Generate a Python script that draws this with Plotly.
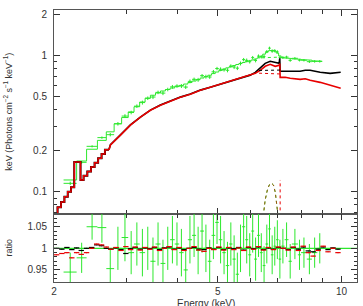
import numpy as np
import plotly.graph_objects as go
from plotly.subplots import make_subplots

# ---------------- data ----------------
# Black / red: low-energy histogram steps (bin edges, values)
step_edges = [2.00, 2.04, 2.08, 2.12, 2.16, 2.20, 2.24, 2.32, 2.36, 2.41, 2.46, 2.51, 2.56, 2.61, 2.66, 2.72]
red_step_vals = [0.070, 0.077, 0.084, 0.092, 0.100, 0.108, 0.165, 0.122, 0.131, 0.141, 0.152, 0.163, 0.176, 0.189, 0.203]
black_step_vals = [0.070, 0.077, 0.084, 0.092, 0.100, 0.108, 0.165, 0.122, 0.131, 0.141, 0.152, 0.163, 0.176, 0.189, 0.203]

# Black / red: smooth part (energy, flux)
red_E = [2.72, 2.743, 2.901, 3.067, 3.244, 3.430, 3.627, 3.836, 4.056, 4.289, 4.536, 4.796, 5.072, 5.363,
         5.671, 5.997, 6.17, 6.342, 6.521, 6.706, 6.896, 7.05, 7.075, 7.09, 7.293, 7.499, 7.930, 8.16,
         8.386, 8.868, 9.377, 9.95]
red_F = [0.203, 0.220, 0.260, 0.308, 0.352, 0.396, 0.431, 0.461, 0.493, 0.519, 0.555, 0.583, 0.614, 0.645,
         0.679, 0.714, 0.738, 0.777, 0.831, 0.859, 0.831, 0.845, 0.870, 0.690, 0.690, 0.679, 0.667, 0.673,
         0.656, 0.634, 0.603, 0.574]
black_E = [2.72, 2.743, 2.901, 3.067, 3.244, 3.430, 3.627, 3.836, 4.056, 4.289, 4.536, 4.796, 5.072, 5.363,
           5.671, 5.997, 6.17, 6.342, 6.521, 6.706, 6.896, 7.05, 7.075, 7.09, 7.293, 7.499, 7.930, 8.16,
           8.386, 8.868, 9.377, 9.95]
black_F = [0.204, 0.221, 0.261, 0.309, 0.353, 0.397, 0.432, 0.462, 0.494, 0.520, 0.556, 0.584, 0.615, 0.646,
           0.680, 0.716, 0.750, 0.803, 0.874, 0.904, 0.889, 0.874, 0.951, 0.764, 0.764, 0.764, 0.764, 0.777,
           0.777, 0.751, 0.738, 0.751]

# Green: bins (centre, half width), model, data/model ratio, ratio error
green_E = [2.19, 2.335, 2.475, 2.615, 2.74, 2.86, 2.975, 3.08, 3.18, 3.28, 3.38, 3.48, 3.58, 3.68, 3.78,
           3.88, 3.98, 4.08, 4.18, 4.28, 4.38, 4.48, 4.58, 4.68, 4.78, 4.88, 4.98, 5.08, 5.18, 5.28,
           5.38, 5.48, 5.58, 5.68, 5.78, 5.88, 5.98, 6.08, 6.18, 6.28, 6.38, 6.48, 6.58, 6.68, 6.78,
           6.88, 6.98, 7.08, 7.2, 7.35, 7.5, 7.7, 7.9, 8.1, 8.35, 8.6, 8.85]
green_hw = [0.08, 0.065, 0.075, 0.065, 0.06, 0.06, 0.055, 0.05, 0.05, 0.05, 0.05, 0.05, 0.05, 0.05, 0.05,
            0.05, 0.05, 0.05, 0.05, 0.05, 0.05, 0.05, 0.05, 0.05, 0.05, 0.05, 0.05, 0.05, 0.05, 0.05,
            0.05, 0.05, 0.05, 0.05, 0.05, 0.05, 0.05, 0.05, 0.05, 0.05, 0.05, 0.05, 0.05, 0.05, 0.05,
            0.05, 0.05, 0.05, 0.07, 0.08, 0.07, 0.13, 0.07, 0.13, 0.12, 0.13, 0.12]
green_model = [0.122, 0.168, 0.205, 0.238, 0.275, 0.315, 0.350, 0.385, 0.420, 0.455, 0.485, 0.510, 0.530, 0.548, 0.562,
               0.576, 0.590, 0.602, 0.616, 0.632, 0.648, 0.665, 0.682, 0.698, 0.715, 0.735, 0.755, 0.775, 0.792, 0.810,
               0.826, 0.842, 0.857, 0.872, 0.886, 0.900, 0.912, 0.925, 0.940, 0.958, 0.985, 1.020, 1.055, 1.080, 1.090,
               1.075, 1.040, 0.990, 0.960, 0.952, 0.948, 0.942, 0.936, 0.930, 0.922, 0.912, 0.904]
green_ratio = [0.945, 0.978, 1.050, 1.048, 0.953, 1.000, 1.025, 0.990, 1.010, 0.990, 1.000, 0.970, 1.010, 0.965, 1.000,
               1.020, 1.010, 0.990, 0.950, 1.020, 1.030, 0.995, 1.040, 1.000, 0.970, 1.030, 1.060, 1.020, 0.990, 0.960,
               1.010, 0.975, 0.940, 1.000, 1.050, 1.020, 0.985, 1.040, 0.975, 1.030, 0.990, 0.960, 1.010, 1.045, 0.985,
               1.005, 1.020, 0.975, 1.005, 1.020, 0.970, 1.010, 0.985, 0.990, 0.975, 0.990, 1.000]
green_rerr = [0.045, 0.035, 0.030, 0.035, 0.045, 0.050, 0.055, 0.050, 0.050, 0.055, 0.050, 0.055, 0.050, 0.055, 0.050,
              0.055, 0.050, 0.055, 0.050, 0.055, 0.050, 0.055, 0.050, 0.055, 0.050, 0.055, 0.050, 0.055, 0.050, 0.055,
              0.050, 0.055, 0.050, 0.055, 0.050, 0.055, 0.050, 0.050, 0.050, 0.050, 0.045, 0.045, 0.045, 0.045, 0.045,
              0.045, 0.045, 0.045, 0.040, 0.040, 0.040, 0.035, 0.035, 0.035, 0.035, 0.035, 0.035]

# Black / red ratio points
ratio_E = [2.03, 2.09, 2.15, 2.21, 2.27, 2.33, 2.40, 2.47, 2.54, 2.61, 2.68, 2.75, 2.83, 2.91, 2.99, 3.07,
           3.15, 3.24, 3.33, 3.42, 3.51, 3.61, 3.71, 3.81, 3.92, 4.03, 4.14, 4.26, 4.38, 4.50, 4.63, 4.76,
           4.89, 5.03, 5.17, 5.32, 5.47, 5.62, 5.78, 5.94, 6.11, 6.28, 6.46, 6.64, 6.83, 7.02, 7.22, 7.42,
           7.63, 7.85, 8.07, 8.30, 8.53, 8.77, 9.02, 9.27, 9.53, 9.80]
red_ratio = [0.985, 0.988, 0.990, 0.978, 0.990, 0.986, 0.990, 1.000, 1.010, 1.008, 1.003, 0.998, 1.002, 0.995, 1.004, 0.997,
             1.003, 0.996, 1.002, 0.998, 1.003, 0.995, 1.000, 1.004, 0.997, 1.002, 0.995, 1.000, 1.004, 0.996, 0.993, 1.000,
             0.997, 1.003, 0.996, 1.002, 0.997, 1.001, 0.995, 1.003, 0.998, 1.004, 0.996, 1.002, 0.997, 1.003, 1.000, 0.996,
             1.003, 0.995, 1.005, 0.990, 0.982, 0.995, 1.005, 0.992, 1.000, 0.990]
black_ratio = [1.000, 0.998, 1.002, 0.997, 1.001, 0.995, 1.000, 1.002, 1.008, 1.006, 1.000, 0.998, 1.001, 0.997, 0.988, 0.999,
               1.002, 0.998, 1.001, 0.999, 1.002, 0.997, 1.001, 1.003, 0.998, 1.001, 0.997, 1.000, 1.002, 0.998, 0.997, 1.001,
               0.998, 1.002, 0.997, 1.001, 0.999, 1.002, 0.996, 1.002, 0.999, 1.003, 0.997, 1.001, 0.998, 1.002, 1.000, 0.997,
               1.002, 0.998, 1.003, 0.994, 0.992, 0.998, 1.003, 0.997, 1.001, 0.998]

# Model components (dotted)
cont_black_E = [6.3, 7.1]; cont_black_F = [0.775, 0.780]
cont_red_E = [6.3, 7.12]; cont_red_F = [0.740, 0.730]
cont_green_E = [6.4, 7.05]; cont_green_F = [0.960, 0.970]
gauss_E = [6.45, 6.52, 6.60, 6.67, 6.75, 6.83, 6.90, 6.96, 7.01]
gauss_F = [0.066, 0.087, 0.103, 0.112, 0.116, 0.112, 0.099, 0.080, 0.066]
narrow_E = [7.09, 7.09]; narrow_F = [0.066, 0.122]

# tick labels
x_major = [2, 5, 10]
x_minor = [3, 4, 6, 7, 8, 9]
y_major = [0.1, 0.2, 0.5, 1, 2]
y_minor = [0.07, 0.08, 0.09, 0.3, 0.4, 0.6, 0.7, 0.8, 0.9]
r_major = [0.95, 1, 1.05]
r_minor = [0.93, 0.94, 0.96, 0.97, 0.98, 0.99, 1.01, 1.02, 1.03, 1.04, 1.06, 1.07]

GREEN = "#2de82d"
RED = "#e80000"
BLACK = "#000000"
FONT = "Liberation Sans, Arial"

fig = make_subplots(rows=2, cols=1, shared_xaxes=True, vertical_spacing=0, row_heights=[0.75, 0.25])

def step_xy(edges, vals):
    xs, ys = [], []
    for i, v in enumerate(vals):
        xs += [edges[i], edges[i + 1]]
        ys += [v, v]
    return xs, ys

# green model histogram + data
g_edges = [green_E[0] - green_hw[0]] + [e + h for e, h in zip(green_E, green_hw)]
gx, gy = step_xy(g_edges, green_model)
fig.add_trace(go.Scatter(x=gx, y=gy, mode="lines", line=dict(color=GREEN, width=1)), 1, 1)
green_data = np.array(green_model) * np.array(green_ratio)
green_derr = np.array(green_model) * np.array(green_rerr)
fig.add_trace(go.Scatter(x=green_E, y=green_data, mode="markers", marker=dict(size=1, color=GREEN),
                         error_x=dict(type="data", array=green_hw, color=GREEN, thickness=1, width=0),
                         error_y=dict(type="data", array=green_derr * 0.6, color=GREEN, thickness=1, width=0)), 1, 1)

# black and red histograms + smooth curves
bx, by = step_xy(step_edges, black_step_vals)
fig.add_trace(go.Scatter(x=bx, y=by, mode="lines", line=dict(color=BLACK, width=2)), 1, 1)
fig.add_trace(go.Scatter(x=black_E, y=black_F, mode="lines", line=dict(color=BLACK, width=1.6)), 1, 1)
rx, ry = step_xy(step_edges, red_step_vals)
fig.add_trace(go.Scatter(x=rx, y=ry, mode="lines", line=dict(color=RED, width=1.5)), 1, 1)
fig.add_trace(go.Scatter(x=red_E, y=red_F, mode="lines", line=dict(color=RED, width=1.6)), 1, 1)

# dotted components
for ex, fy, col in [(cont_black_E, cont_black_F, BLACK), (cont_red_E, cont_red_F, RED),
                    (cont_green_E, cont_green_F, GREEN), (gauss_E, gauss_F, GREEN),
                    (gauss_E, gauss_F, "#a05010"), (narrow_E, narrow_F, RED)]:
    fig.add_trace(go.Scatter(x=ex, y=fy, mode="lines", line=dict(color=col, width=1, dash="dot")), 1, 1)

# ratio panel
ratio_hw = [0.03 * e / 2.0 for e in ratio_E]
fig.add_trace(go.Scatter(x=[1.5, 12], y=[1, 1], mode="lines", line=dict(color=GREEN, width=1.2)), 2, 1)
fig.add_trace(go.Scatter(x=green_E, y=green_ratio, mode="markers", marker=dict(size=1, color=GREEN),
                         error_x=dict(type="data", array=green_hw, color=GREEN, thickness=1, width=0),
                         error_y=dict(type="data", array=green_rerr, color=GREEN, thickness=1, width=0)), 2, 1)
fig.add_trace(go.Scatter(x=ratio_E, y=black_ratio, mode="markers", marker=dict(size=1, color=BLACK),
                         error_x=dict(type="data", array=ratio_hw, color=BLACK, thickness=1.2, width=0),
                         error_y=dict(type="data", value=0.002, color=BLACK, thickness=1, width=0)), 2, 1)
fig.add_trace(go.Scatter(x=ratio_E, y=red_ratio, mode="markers", marker=dict(size=1, color=RED),
                         error_x=dict(type="data", array=ratio_hw, color=RED, thickness=1.2, width=0),
                         error_y=dict(type="data", value=0.006, color=RED, thickness=1.2, width=0)), 2, 1)

AX = dict(showgrid=False, zeroline=False, showline=True, linecolor="#555555", linewidth=1,
          mirror="allticks", ticks="inside", tickcolor="#333333", tickwidth=1,
          tickfont=dict(family=FONT, size=10, color="#333333"))

xr = [np.log10(2), np.log10(10.9)]
fig.update_xaxes(type="log", range=xr, tickvals=x_major, ticktext=[str(v) for v in x_major], ticklen=6,
                 minor=dict(tickvals=x_minor, ticklen=4, ticks="inside", tickcolor="#333333"), **AX)
fig.update_xaxes(showticklabels=False, row=1, col=1)
fig.update_yaxes(type="log", range=[np.log10(0.0687), np.log10(2.15)], tickvals=y_major,
                 ticktext=["0.1", "0.2", "0.5", "1", "2"], ticklen=6, ticklabelstandoff=4,
                 minor=dict(tickvals=y_minor, ticklen=3, ticks="inside", tickcolor="#333333"), row=1, col=1, **AX)
fig.update_yaxes(range=[0.922, 1.0795], tickvals=r_major, ticktext=["0.95", "1", "1.05"], ticklen=6,
                 ticklabelstandoff=4,
                 minor=dict(tickvals=r_minor, ticklen=3, ticks="inside", tickcolor="#333333"), row=2, col=1, **AX)

fig.update_layout(
    width=363, height=306, margin=dict(l=53.5, r=6, t=9.5, b=24),
    paper_bgcolor="white", plot_bgcolor="white", showlegend=False,
    annotations=[
        dict(text="keV (Photons cm<sup>−2</sup> s<sup>−1</sup> keV<sup>−1</sup>)", xref="paper", yref="paper",
             x=-0.15, y=0.624, xanchor="center", yanchor="middle", textangle=-90, showarrow=False,
             font=dict(family=FONT, size=9, color="#333333")),
        dict(text="ratio", xref="paper", yref="paper", x=-0.15, y=0.125, xanchor="center", yanchor="middle",
             textangle=-90, showarrow=False, font=dict(family=FONT, size=9, color="#333333")),
        dict(text="Energy (keV)", xref="paper", yref="paper", x=0.5, y=-0.05, xanchor="center", yanchor="top",
             showarrow=False, font=dict(family=FONT, size=10, color="#333333")),
    ],
)

fig.write_html("out.html")
